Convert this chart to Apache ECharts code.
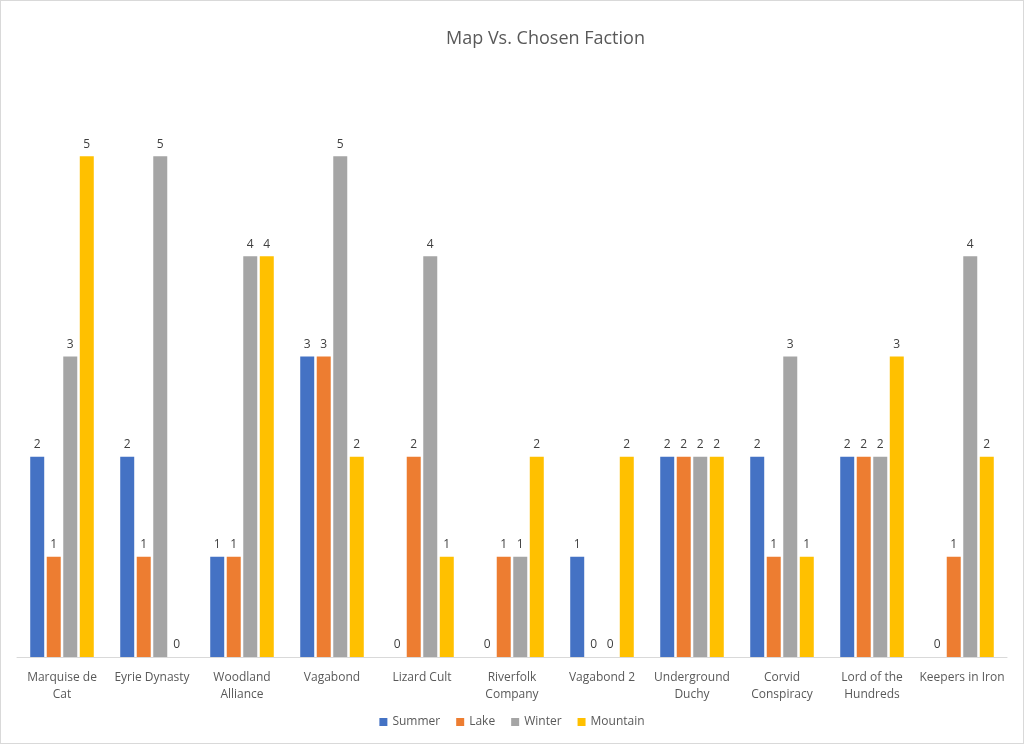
<!DOCTYPE html>
<html><head><meta charset="utf-8">
<script src="https://cdn.jsdelivr.net/npm/echarts@6/dist/echarts.min.js"></script>
<style>html,body{margin:0;padding:0;background:#fff}#c{width:1022px;height:742px;border:1px solid #d9d9d9}</style>
</head><body><div id="c"></div>
<script>
const categories = ["Marquise de Cat","Eyrie Dynasty","Woodland Alliance","Vagabond","Lizard Cult","Riverfolk Company","Vagabond 2","Underground Duchy","Corvid Conspiracy","Lord of the Hundreds","Keepers in Iron"];
const tickLabels = ["Marquise de\nCat","Eyrie Dynasty","Woodland\nAlliance","Vagabond","Lizard Cult","Riverfolk\nCompany","Vagabond 2","Underground\nDuchy","Corvid\nConspiracy","Lord of the\nHundreds","Keepers in Iron"];
const summer   = [2,2,1,3,0,0,1,2,2,2,0];
const lake     = [1,1,1,3,2,1,0,2,1,2,1];
const winter   = [3,5,4,5,4,1,0,2,3,2,4];
const mountain = [5,0,4,2,1,2,2,2,1,3,2];
const seriesNames = ["Summer","Lake","Winter","Mountain"];
const colors = ["#4472C4","#ED7D31","#A5A5A5","#FFC000"];
const values = [summer, lake, winter, mountain];
const font = "'Open Sans', 'Liberation Sans', sans-serif";
const chart = echarts.init(document.getElementById('c'));
chart.setOption({
  animation:false,
  textStyle:{fontFamily:font},
  title:{text:"Map Vs. Chosen Faction",left:440,top:24,textStyle:{fontFamily:font,fontSize:18,fontWeight:'normal',color:'#595959'}},
  legend:{data:seriesNames,bottom:10,left:'center',itemWidth:8,itemHeight:8,itemGap:16,icon:'rect',textStyle:{fontFamily:font,fontSize:12,color:'#595959'}},
  grid:{left:16,right:16,top:55,bottom:86,containLabel:false},
  xAxis:{type:'category',data:categories,
    axisLine:{lineStyle:{color:'#d9d9d9'}},axisTick:{show:false},
    axisLabel:{interval:0,color:'#595959',fontSize:12,margin:12,lineHeight:17,formatter:(v,i)=>tickLabels[i]}},
  yAxis:{type:'value',min:0,max:6,interval:1,show:false,splitLine:{show:false}},
  series: seriesNames.map((n,i)=>({name:n,type:'bar',data:values[i],barWidth:14,barGap:'18%',
    itemStyle:{color:colors[i],borderColor:'#fff',borderWidth:0},
    label:{show:true,position:'top',distance:6,color:'#404040',fontSize:12,fontFamily:font}}))
});
</script></body></html>
